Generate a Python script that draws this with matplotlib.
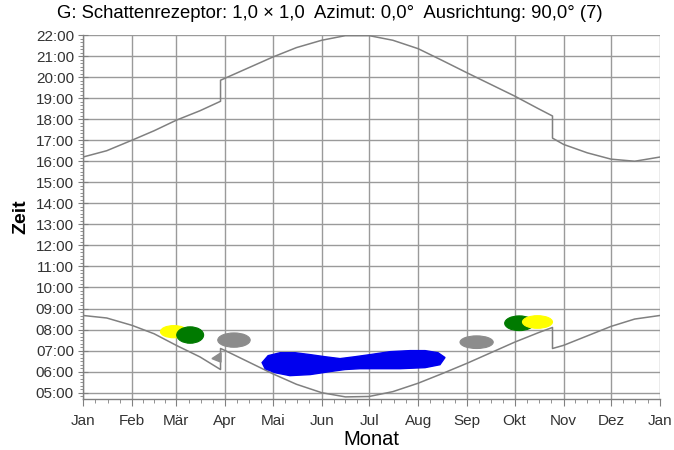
import matplotlib
matplotlib.use("Agg")
import matplotlib.pyplot as plt
from matplotlib.patches import Ellipse, Polygon
from matplotlib.ticker import FixedLocator, MultipleLocator, FuncFormatter
import numpy as np

plt.rcParams['font.family'] = ['Liberation Sans', 'DejaVu Sans']

# Month starts (day of year) and labels
month_starts = [0, 31, 59, 90, 120, 151, 181, 212, 243, 273, 304, 334, 365]
month_labels = ["Jan", "Feb", "Mär", "Apr", "Mai", "Jun", "Jul", "Aug", "Sep", "Okt", "Nov", "Dez", "Jan"]

# Sunset curve (day of year, hour) incl. DST jumps
sunset_days = [0, 15, 31, 45, 59, 74, 87, 87, 90, 105, 120, 135, 151, 166, 181, 196,
               212, 227, 243, 258, 273, 288, 297, 297, 304, 319, 334, 349, 365]
sunset_hours = [16.2, 16.5, 17.0, 17.45, 17.95, 18.4, 18.85, 19.85, 19.95, 20.45, 20.95, 21.4,
                21.75, 21.97, 21.97, 21.75, 21.35, 20.8, 20.2, 19.65, 19.1, 18.5, 18.15,
                17.1, 16.8, 16.4, 16.1, 16.0, 16.2]

# Sunrise curve
sunrise_days = [0, 15, 31, 45, 59, 74, 87, 87, 90, 105, 120, 135, 151, 166, 181, 196,
                212, 227, 243, 258, 273, 288, 297, 297, 304, 319, 334, 349, 365]
sunrise_hours = [8.67, 8.55, 8.2, 7.8, 7.25, 6.7, 6.1, 7.1, 7.0, 6.45, 5.9, 5.4, 5.0, 4.8,
                 4.82, 5.05, 5.45, 5.9, 6.4, 6.9, 7.4, 7.85, 8.1, 7.1, 7.25, 7.7, 8.15, 8.5, 8.67]

# Shadow periods as ellipses: centre day, centre hour, width (days), height (hours)
blob_days = [57.5, 67.8, 95.5, 249.0, 276.0, 287.5]
blob_hours = [7.9, 7.74, 7.5, 7.4, 8.3, 8.36]
blob_widths = [17.0, 17.0, 20.5, 21.0, 18.5, 19.0]
blob_heights = [0.58, 0.78, 0.68, 0.6, 0.7, 0.6]
blob_colors = ["#ffff00", "#007a00", "#8c8c8c", "#8c8c8c", "#007a00", "#ffff00"]

# Small grey shadow spot near end of March
spot_days = [81.6, 87.3, 87.3]
spot_hours = [6.62, 6.9, 6.45]

# Large blue shadow period (outline)
blue_days = [113.3, 117.1, 124.7, 134.2, 143.7, 153.1, 162.6, 172.1, 181.6, 194.2, 206.9,
             216.4, 224.6, 229.0, 225.8, 216.4, 200.6, 187.9, 175.2, 165.7, 156.0, 143.7,
             130.9, 121.5, 115.2]
blue_hours = [6.43, 6.76, 6.9, 6.9, 6.81, 6.71, 6.62, 6.71, 6.81, 6.95, 7.0,
              7.0, 6.9, 6.67, 6.33, 6.19, 6.14, 6.14, 6.14, 6.1, 6.0, 5.86,
              5.81, 5.95, 6.14]

fig = plt.figure(figsize=(6.74, 4.5), dpi=100)
ax = fig.add_axes([83/674, 1-399/450, (660-83)/674, (399-35)/450])

grid_c = "#9a9a9a"
for x in month_starts:
    ax.axvline(x, color=grid_c, lw=1.0, zorder=1)
for h in range(5, 23):
    ax.axhline(h, color=grid_c, lw=1.0, zorder=1)

curve_c = "#808080"
ax.plot(sunset_days, sunset_hours, color=curve_c, lw=1.1, zorder=3)
ax.plot(sunrise_days, sunrise_hours, color=curve_c, lw=1.1, zorder=3)

ax.add_patch(Polygon(np.column_stack([blue_days, blue_hours]), closed=True,
                     facecolor="#0000ee", edgecolor="#0000ee", lw=1, zorder=4))
ax.add_patch(Polygon(np.column_stack([spot_days, spot_hours]), closed=True,
                     facecolor="#8c8c8c", edgecolor="#8c8c8c", lw=1, zorder=4))
for d, h, w, hh, c in zip(blob_days, blob_hours, blob_widths, blob_heights, blob_colors):
    ax.add_patch(Ellipse((d, h), w, hh, facecolor=c, edgecolor=c, lw=0.8, zorder=4))

ax.set_xlim(0, 365)
ax.set_ylim(4.7, 22)

ax.xaxis.set_major_locator(FixedLocator(month_starts))
ax.set_xticklabels(month_labels)
minor_x = []
for a, b in zip(month_starts[:-1], month_starts[1:]):
    for k in range(1, 4):
        minor_x.append(a + (b - a) * k / 4)
ax.xaxis.set_minor_locator(FixedLocator(minor_x))

ax.yaxis.set_major_locator(FixedLocator(list(range(5, 23))))
ax.yaxis.set_major_formatter(FuncFormatter(lambda v, p: f"{int(round(v)):02d}:00"))
ax.yaxis.set_minor_locator(MultipleLocator(1/6))

for s in ["top", "right"]:
    ax.spines[s].set_visible(False)
for s in ["left", "bottom"]:
    ax.spines[s].set_color("#808080")
    ax.spines[s].set_linewidth(1.0)

ax.tick_params(axis="both", which="major", labelsize=11, colors="#808080", labelcolor="#333333")
ax.tick_params(axis="x", which="major", direction="out", length=5, pad=6)
ax.tick_params(axis="x", which="minor", direction="out", length=3, colors="#808080")
ax.tick_params(axis="y", which="major", direction="inout", length=7, pad=3)
ax.tick_params(axis="y", which="minor", direction="out", length=2.5, colors="#808080")

ax.set_xlabel("Monat", fontsize=14.5, labelpad=1)
ax.set_ylabel("Zeit", fontsize=14, fontweight="bold", labelpad=5)
fig.text(0.5 * (40 + 620) / 674, 1 - 14/450, "G: Schattenrezeptor: 1,0 × 1,0  Azimut: 0,0°  Ausrichtung: 90,0° (7)",
         ha="center", va="center", fontsize=13.3)

fig.savefig("out.png", dpi=100)
